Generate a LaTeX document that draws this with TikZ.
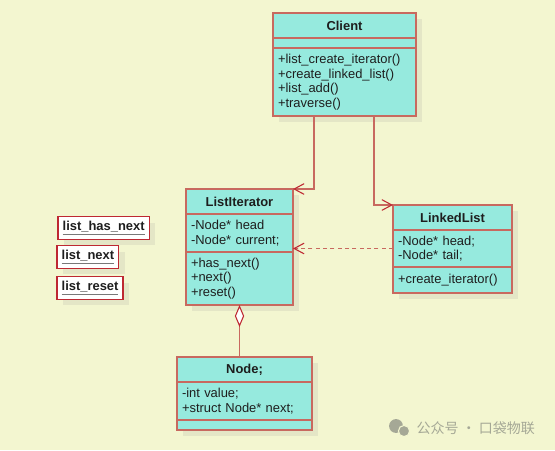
\documentclass[tikz,border=0pt]{standalone}
\usepackage{fontspec}
\setmainfont{Liberation Sans}
\newfontfamily\cjkfont{Noto Sans CJK SC}
\usetikzlibrary{positioning, arrows.meta, shadows}
\definecolor{umlbg}{RGB}{243,246,208}
\definecolor{umlteal}{RGB}{150,234,222}
\definecolor{umlline}{RGB}{200,105,95}
\definecolor{umlred}{RGB}{190,40,50}
\definecolor{umlshadow}{RGB}{228,230,198}
\definecolor{umltext}{RGB}{30,30,30}
\definecolor{undergray}{RGB}{120,120,120}
\definecolor{markgray}{RGB}{165,168,150}
\newcommand\umlfont{\fontsize{9.7}{11}\selectfont}
\newcommand\objname[1]{{\color{undergray}\underline{\textcolor{umltext}{#1}}}}
\tikzset{
  umlbox/.style={draw=umlline, fill=umlteal, line width=1.2pt, outer sep=0pt,
    inner xsep=3.75pt, inner ysep=1pt, text width=#1, text=umltext,
    drop shadow={shadow xshift=4.5pt, shadow yshift=-4.5pt, fill=umlshadow, opacity=1}},
  umlhead/.style={umlbox=#1, align=center, minimum height=18.75pt, font=\umlfont\bfseries},
  umlpart/.style={umlbox=#1, align=left, font=\umlfont},
  objbox/.style={draw=umlred, fill=white, line width=1pt, outer sep=0pt,
    inner xsep=3.5pt, minimum height=16.5pt, font=\umlfont\bfseries, text=umltext,
    drop shadow={shadow xshift=4.5pt, shadow yshift=-4.5pt, fill=umlshadow, opacity=1}},
  assoc/.style={line width=1.4pt, draw=umlline,
    -{Straight Barb[length=7.5pt, width=8pt, line width=0.8pt, color=umlred]}},
  dep/.style={assoc, dash pattern=on 3pt off 2.5pt},
  aggr/.style={line width=1.4pt, draw=umlline,
    -{Diamond[length=16.5pt, width=7pt, fill=white, line width=0.8pt, color=umlred]}}
}
\begin{document}
\begin{tikzpicture}[x=0.75pt, y=-0.75pt]
  \fill[umlbg] (0,0) rectangle (555,450);
  \useasboundingbox (0,0) rectangle (555,450);

  % Client
  \node[umlhead=99.75pt, anchor=north west] (ch) at (273,13) {Client};
  \node[umlpart=99.75pt, minimum height=7.5pt, below=0pt of ch] (ca) {};
  \node[umlpart=99.75pt, minimum height=51pt, below=0pt of ca] (cm)
    {+list\_create\_iterator()\\+create\_linked\_list()\\+list\_add()\\+traverse()};

  % ListIterator
  \node[umlhead=72.75pt, anchor=north west] (lih) at (186,189) {ListIterator};
  \node[umlpart=72.75pt, minimum height=28.5pt, below=0pt of lih] (lia)
    {-Node* head\\-Node* current;};
  \node[umlpart=72.75pt, minimum height=39.75pt, below=0pt of lia] (lim)
    {+has\_next()\\+next()\\+reset()};

  % LinkedList
  \node[umlhead=81.75pt, anchor=north west] (llh) at (393,205) {LinkedList};
  \node[umlpart=81.75pt, minimum height=27.75pt, below=0pt of llh] (lla)
    {-Node* head;\\-Node* tail;};
  \node[umlpart=81.75pt, minimum height=19.5pt, below=0pt of lla] (llm)
    {+create\_iterator()};

  % Node
  \node[umlhead=93.75pt, anchor=north west] (nh) at (177,357) {Node;};
  \node[umlpart=93.75pt, minimum height=28.5pt, below=0pt of nh] (na)
    {-int value;\\+struct Node* next;};
  \node[umlpart=93.75pt, minimum height=7.5pt, below=0pt of na] (nm) {};

  % functions
  \node[objbox, anchor=west] (fhas) at (58,228) {\objname{list\_has\_next}};
  \node[objbox, anchor=west] (fnext) at (57,257) {\objname{list\_next}};
  \node[objbox, anchor=west] (freset) at (57,288) {\objname{list\_reset}};

  % relations
  \draw[assoc] ([xshift=30.75pt]cm.south west) |- (lih.north east);
  \draw[assoc] ([xshift=75.75pt]cm.south west) |- (llh.north west);
  \draw[dep] (lla.west) -- (lla.west -| lia.east);
  \draw[aggr] (nh.north -| lim.south) -- (lim.south);

  % watermark
  \fill[markgray] (396,426) circle (5.2pt);
  \filldraw[fill=markgray, draw=umlbg, line width=0.8pt] (404,431) circle (4.2pt);
  \node[font=\cjkfont\fontsize{10.5}{12}\selectfont, text=markgray, anchor=west]
    (mark) at (412,428) {公众号 · 口袋物联};
\end{tikzpicture}
\end{document}
